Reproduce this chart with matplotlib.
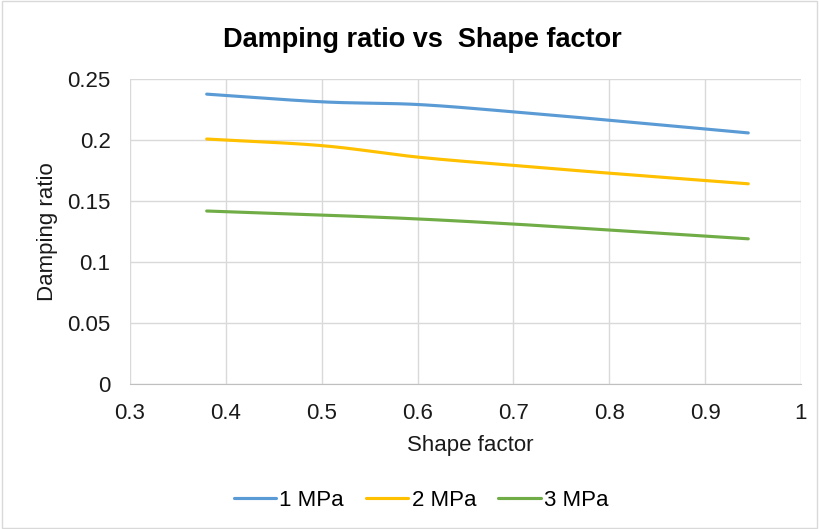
import numpy as np
import matplotlib
matplotlib.use("Agg")
import matplotlib.pyplot as plt
from matplotlib.patches import Rectangle

plt.rcParams['font.family'] = ['Liberation Sans', 'DejaVu Sans']

shape_factor = [0.38, 0.5, 0.6, 0.7, 0.8, 0.945]
damp_1mpa = [0.2376, 0.2313, 0.2291, 0.2231, 0.2162, 0.2058]
damp_2mpa = [0.2008, 0.1954, 0.1860, 0.1792, 0.1728, 0.1641]
damp_3mpa = [0.1418, 0.1385, 0.1353, 0.1311, 0.1262, 0.1190]
series_labels = ['1 MPa', '2 MPa', '3 MPa']
colors = ['#5B9BD5', '#FFC000', '#70AD47']

def smooth(x, y, n=30):
    x = np.asarray(x, float); y = np.asarray(y, float)
    px = np.concatenate([[2*x[0]-x[1]], x, [2*x[-1]-x[-2]]])
    py = np.concatenate([[2*y[0]-y[1]], y, [2*y[-1]-y[-2]]])
    xs, ys = [], []
    t = np.linspace(0, 1, n)
    for i in range(1, len(px)-2):
        p0, p1, p2, p3 = [np.array([px[j], py[j]]) for j in (i-1, i, i+1, i+2)]
        for tt in t:
            pt = 0.5*((2*p1) + (-p0+p2)*tt + (2*p0-5*p1+4*p2-p3)*tt**2 + (-p0+3*p1-3*p2+p3)*tt**3)
            xs.append(pt[0]); ys.append(pt[1])
    return xs, ys

W, H = 819, 529
fig = plt.figure(figsize=(W/100, H/100), dpi=100)
fig.patches.append(Rectangle((0.002, 0.002), 0.996, 0.996, transform=fig.transFigure,
                             fill=False, edgecolor='#D9D9D9', linewidth=1))
l, r, t, b = 130, 801, 79, 384
ax = fig.add_axes([l/W, 1-b/H, (r-l)/W, (b-t)/H])

for ys, lab, c in zip([damp_1mpa, damp_2mpa, damp_3mpa], series_labels, colors):
    sx, sy = smooth(shape_factor, ys)
    ax.plot(sx, sy, color=c, linewidth=2.25, label=lab, solid_capstyle='round')

ax.set_xlim(0.3, 1.0)
ax.set_ylim(0, 0.25)
ax.set_xticks(np.arange(0.3, 1.01, 0.1))
ax.set_xticklabels(['0.3', '0.4', '0.5', '0.6', '0.7', '0.8', '0.9', '1'])
ax.set_yticks([0, 0.05, 0.1, 0.15, 0.2, 0.25])
ax.set_yticklabels(['0', '0.05', '0.1', '0.15', '0.2', '0.25'])
ax.grid(True, color='#D9D9D9', linewidth=1)
ax.set_axisbelow(True)
for s in ['top', 'right', 'left']:
    ax.spines[s].set_visible(False)
ax.spines['bottom'].set_color('#BFBFBF')
ax.tick_params(axis='y', length=0, labelsize=16, colors='#1a1a1a', pad=14)
ax.tick_params(axis='x', length=0, labelsize=16, colors='#1a1a1a', pad=14)
fig.text(470/W, 1-445/H, 'Shape factor', ha='center', va='center', fontsize=16, color='#1a1a1a')
fig.text(47/W, 1-232/H, 'Damping ratio', ha='center', va='center', fontsize=16,
         color='#1a1a1a', rotation=90)
fig.text(422/W, 1-40/H, 'Damping ratio vs  Shape factor', ha='center', va='center',
         fontsize=19.5, fontweight='bold', color='black')
fig.legend(loc='center', bbox_to_anchor=(421/W, 1-500/H), ncol=3, frameon=False,
           fontsize=16, handlelength=1.9, handletextpad=0.15, columnspacing=1.0)
fig.savefig('out.png', dpi=100)
